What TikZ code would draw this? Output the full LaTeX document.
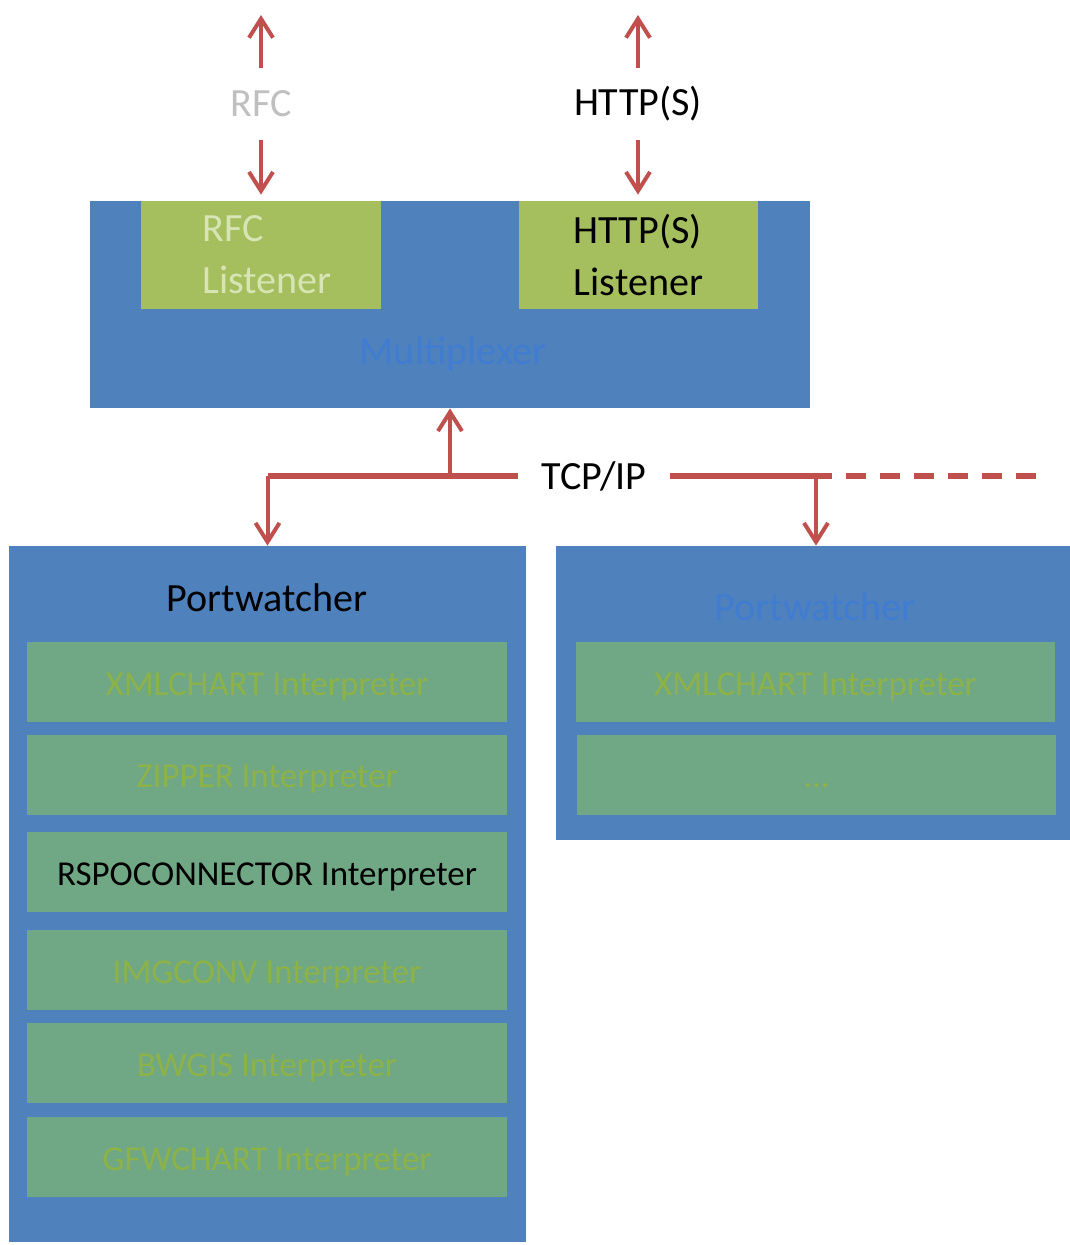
\documentclass[tikz,border=0pt]{standalone}
\usepackage{fontspec}
\setmainfont{Carlito}
\usetikzlibrary{arrows.meta,fit}
\definecolor{boxblue}{RGB}{79,129,189}
\definecolor{lsngreen}{RGB}{166,191,94}
\definecolor{intgreen}{RGB}{112,168,133}
\definecolor{linkred}{RGB}{192,80,77}
\definecolor{rfcgray}{RGB}{191,191,191}
\definecolor{rfcpale}{RGB}{215,228,180}
\definecolor{muxtext}{RGB}{64,124,208}
\definecolor{inttext}{RGB}{140,178,72}
\newcommand{\bigfont}{\fontsize{22.8}{29.6}\selectfont}
\newcommand{\intfont}{\fontsize{19.9}{24}\selectfont}
\tikzset{
  layer/.style={fill=boxblue, inner sep=0},
  listener/.style={fill=lsngreen, inner sep=0},
  lsntext/.style={align=left, font=\bigfont, inner sep=0},
  interp/.style={fill=intgreen, inner sep=0},
  inttxt/.style={text=inttext, font=\intfont, yshift=-0.09cm},
  link/.style={draw=linkred, line width=0.08cm},
  bus/.style={draw=linkred, line width=0.11cm},
  arrowlink/.style={-{Straight Barb[length=0.38cm,width=0.48cm]}},
}
\begin{document}
\begin{tikzpicture}[x=0.02cm,y=-0.02cm]
\useasboundingbox (0,0) rectangle (1070,1245);
% multiplexer and its listeners
\node[layer,fit={(90,201) (810,408)}] (mux) {};
\node[listener,fit={(141,201) (381,309)},
  label={[lsntext,text=rfcpale,xshift=0.12cm]center:RFC\\Listener}] (rfcl) {};
\node[listener,fit={(519,201) (758,309)},
  label={[lsntext]center:HTTP(S)\\Listener}] (httpl) {};
\node[text=muxtext,font=\bigfont] (muxlab) at (453,354) {Multiplexer};
% outside connections
\node[inner sep=0,minimum height=1.44cm,text=rfcgray,font=\bigfont] (rfc) at (261,104) {RFC};
\node[inner sep=0,minimum height=1.44cm,font=\bigfont] (http) at (638,104) {HTTP(S)};
\coordinate (rfcout) at (261,15);
\coordinate (httpout) at (638,15);
\draw[link,arrowlink] (rfc.north) -- (rfcout);
\draw[link,arrowlink,shorten >=0.12cm] (rfc.south) -- (rfcl.north);
\draw[link,arrowlink] (http.north) -- (httpout);
\draw[link,arrowlink,shorten >=0.12cm] (http.south) -- (http.south |- httpl.north);
% portwatchers
\node[layer,fit={(9,546) (526,1242)}] (pwl) {};
\node[font=\bigfont] (pwllab) at (267,598) {Portwatcher};
\foreach \y/\t/\c [count=\i] in {642/XMLCHART/inttext,735/ZIPPER/inttext,832/RSPOCONNECTOR/black,
    930/IMGCONV/inttext,1023/BWGIS/inttext,1117/GFWCHART/inttext}
  \node[interp,fit={(27,\y) (507,\y+80)},
    label={[inttxt,text=\c]center:\t\ Interpreter}] (intl\i) {};
\node[layer,fit={(556,546) (1070,840)}] (pwr) {};
\node[text=muxtext,font=\bigfont] (pwrlab) at (815,607) {Portwatcher};
\node[interp,fit={(576,642) (1055,722)},
  label={[inttxt]center:XMLCHART Interpreter}] (intr1) {};
\node[interp,fit={(577,735) (1056,815)},
  label={[inttxt]center:\vphantom{Ip}...}] (intr2) {};
% tcp/ip bus
\node[inner sep=0,minimum width=3.04cm,font=\bigfont] (tcp) at (594,476) {TCP/IP};
\coordinate (lft) at (pwl.north |- tcp.west);
\coordinate (rgt) at (816,476);
\coordinate (mid) at (mux.south |- tcp.west);
\coordinate (dashstart) at (830,476);
\coordinate (dashend) at (1038,476);
\draw[bus] (lft) -- (tcp.west);
\draw[bus] (tcp.east) -- (dashstart);
\draw[bus,dash pattern=on 0.4cm off 0.28cm,dash phase=-0.32cm] (dashstart) -- (dashend);
\draw[link,arrowlink] (mid) -- (mux.south);
\draw[link,arrowlink] (lft) -- (pwl.north);
\draw[link,arrowlink] (rgt) -- (rgt |- pwr.north);
\end{tikzpicture}
\end{document}
